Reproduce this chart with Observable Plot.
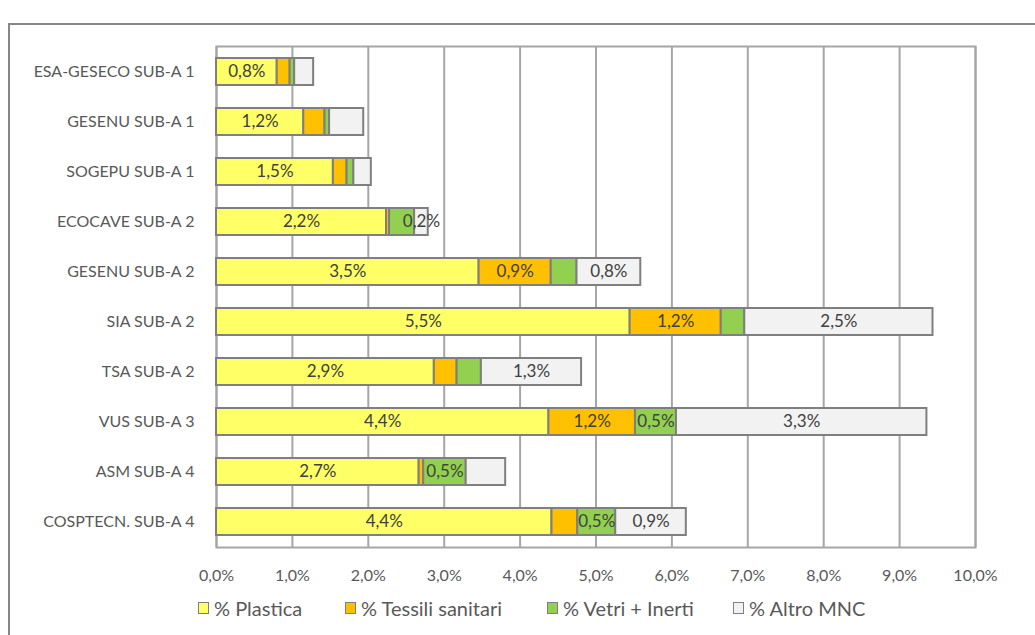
<!DOCTYPE html>
<html>
<head>
<meta charset="utf-8">
<script src="https://cdn.jsdelivr.net/npm/d3@7"></script>
<script src="https://cdn.jsdelivr.net/npm/@observablehq/plot@0.6"></script>
<style>
  html, body { margin: 0; padding: 0; background: #fff; overflow: hidden; width: 1035px; height: 635px; }
  #frame { position: absolute; left: 8px; top: 23px; width: 1200px; height: 800px; border: 2px solid #868686; box-sizing: border-box; }
  #chart { position: absolute; left: 0; top: 0; }
  .leg { position: absolute; top: 596px; font-family: Lato, sans-serif; font-size: 20px; color: #595959; display: flex; align-items: center; white-space: nowrap; }
  .sw { width: 9px; height: 10px; border: 1.5px solid #7f7f7f; margin-right: 5px; }
</style>
</head>
<body>
<div id="frame"></div>
<div id="chart"></div>
<div id="legend"></div>
<script>
const categories = ["ESA-GESECO SUB-A 1", "GESENU SUB-A 1", "SOGEPU SUB-A 1", "ECOCAVE SUB-A 2", "GESENU SUB-A 2", "SIA SUB-A 2", "TSA SUB-A 2", "VUS SUB-A 3", "ASM SUB-A 4", "COSPTECN. SUB-A 4"];
const seriesNames = ["% Plastica", "% Tessili sanitari", "% Vetri + Inerti", "% Altro MNC"];
const seriesColors = ["#FFFF66", "#FFC000", "#92D050", "#F2F2F2"];

const plastica = [0.80, 1.15, 1.54, 2.24, 3.46, 5.45, 2.87, 4.38, 2.67, 4.42];
const tessili  = [0.17, 0.28, 0.18, 0.04, 0.95, 1.20, 0.30, 1.14, 0.06, 0.34];
const vetri    = [0.06, 0.06, 0.09, 0.33, 0.34, 0.31, 0.32, 0.54, 0.56, 0.50];
const altro    = [0.25, 0.45, 0.23, 0.18, 0.84, 2.48, 1.32, 3.30, 0.52, 0.93];

const labelsPlastica = ["0,8%", "1,2%", "1,5%", "2,2%", "3,5%", "5,5%", "2,9%", "4,4%", "2,7%", "4,4%"];
const labelsTessili  = ["", "", "", "", "0,9%", "1,2%", "", "1,2%", "", ""];
const labelsVetri    = ["", "", "", "", "", "", "", "0,5%", "0,5%", "0,5%"];
const labelsAltro    = ["", "", "", "0,2%", "0,8%", "2,5%", "1,3%", "3,3%", "", "0,9%"];

const xTicks = [0, 1, 2, 3, 4, 5, 6, 7, 8, 9, 10];

const valueSets = [plastica, tessili, vetri, altro];
const labelSets = [labelsPlastica, labelsTessili, labelsVetri, labelsAltro];
const data = [];
seriesNames.forEach((s, si) => {
  categories.forEach((c, ci) => {
    data.push({cat: c, series: s, value: valueSets[si][ci], label: labelSets[si][ci]});
  });
});

const fmt = d => d.toFixed(1).replace(".", ",") + "%";

const chart = Plot.plot({
  width: 1035,
  height: 590,
  marginLeft: 216,
  marginRight: 60,
  marginTop: 46,
  marginBottom: 43,
  style: {fontFamily: "Lato, sans-serif", fontSize: "16px", color: "#595959", background: "transparent"},
  x: {domain: [0, 10], ticks: xTicks, tickFormat: fmt, tickSize: 0, tickPadding: 22, label: null, fontSize: 16},
  y: {domain: categories, paddingInner: 0.46, paddingOuter: 0.23, tickSize: 0, tickPadding: 22, label: null},
  color: {domain: seriesNames, range: seriesColors},
  marks: [
    Plot.gridX(xTicks, {stroke: "#a6a6a6", strokeWidth: 2, strokeOpacity: 1}),
    Plot.frame({stroke: "#a6a6a6", strokeWidth: 2}),
    Plot.barX(data, Plot.stackX({x: "value", y: "cat", fill: "series", stroke: "#7f7f7f", strokeWidth: 2, order: null})),
    Plot.text(data, Plot.stackX({x: "value", y: "cat", text: "label", fill: "#404040", fontSize: 17, order: null}))
  ]
});
document.getElementById("chart").appendChild(chart);

const legendLefts = [198, 345, 547, 733];
const legend = document.getElementById("legend");
seriesNames.forEach((s, i) => {
  const item = document.createElement("div");
  item.className = "leg";
  item.style.left = legendLefts[i] + "px";
  const sw = document.createElement("div");
  sw.className = "sw";
  sw.style.background = seriesColors[i];
  const t = document.createElement("span");
  t.textContent = s;
  item.appendChild(sw);
  item.appendChild(t);
  legend.appendChild(item);
});
</script>
</body>
</html>
